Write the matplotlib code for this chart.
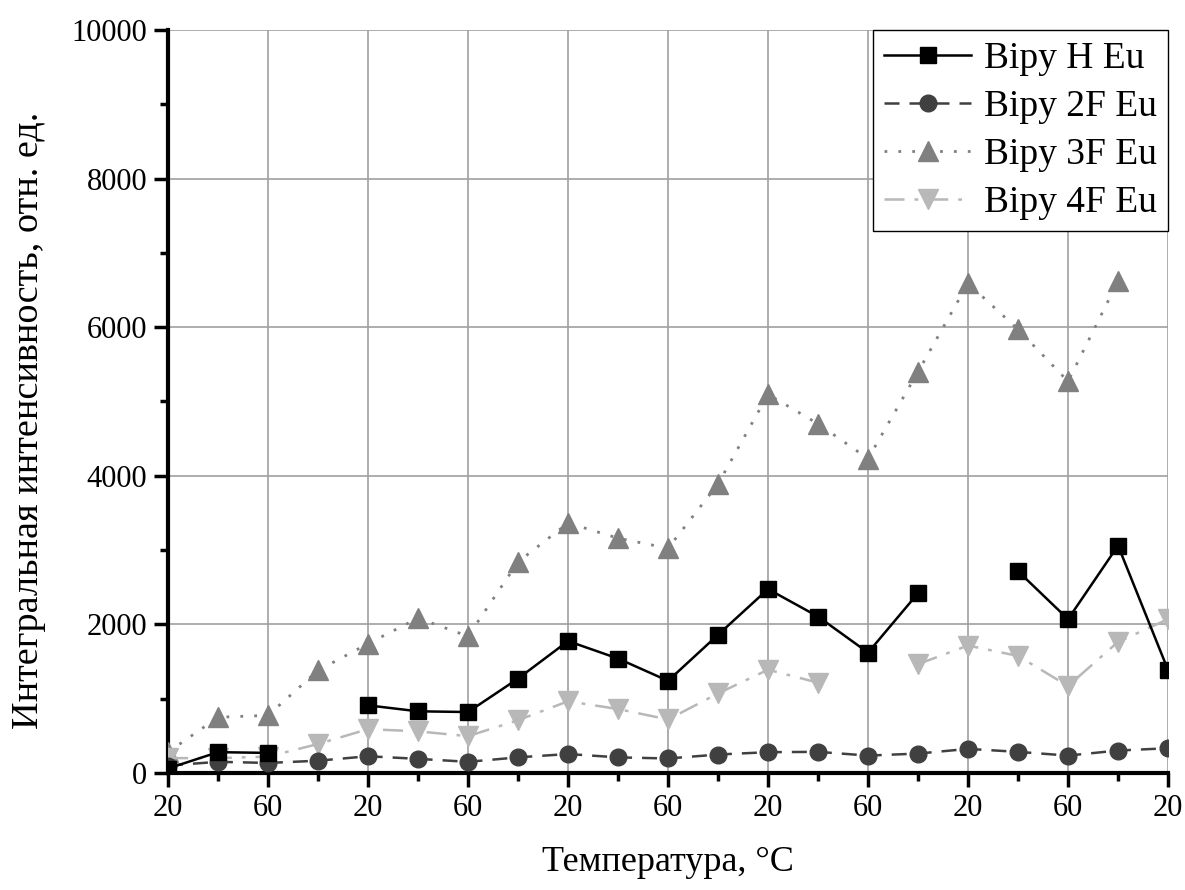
import numpy as np
import matplotlib.pyplot as plt
from matplotlib.ticker import MultipleLocator, FixedLocator, FixedFormatter

plt.rcParams['font.family'] = ['Liberation Serif', 'DejaVu Serif']

# порядковый номер измерения (циклы нагрев/охлаждение 20-60 °C)
x = np.arange(21)
tick_labels = ['20', '60'] * 5 + ['20']

nan = np.nan
bipy_h = [60, 280, 270, nan, 910, 830, 820, 1270, 1775, 1540, 1240, 1860, 2475,
          2105, 1620, 2420, nan, 2715, 2070, 3060, 1385]
bipy_2f = [100, 150, 135, 165, 225, 190, 150, 210, 255, 210, 195, 248, 280,
           284, 234, 261, 324, 284, 234, 302, 333]
bipy_3f = [280, 750, 775, 1380, 1740, 2085, 1840, 2840, 3365, 3160, 3025, 3890,
           5095, 4700, 4230, 5400, 6590, 5970, 5270, 6620, nan]
bipy_4f = [200, 200, 220, 390, 590, 560, 495, 710, 965, 860, 720, 1070, 1390,
           1215, nan, 1465, 1715, 1575, 1170, 1765, 2070]

fig = plt.figure(figsize=(11.85, 8.9), dpi=100)
ax = fig.add_axes([0.1418, 0.1315, 0.8439, 0.8348])

ax.plot(x, bipy_h, color='black', ls='-', lw=1.8, marker='s', ms=12,
        label='Bipy H Eu', zorder=5)
ax.plot(x, bipy_2f, color='#404040', ls=(0, (6, 4)), lw=1.8, marker='o', ms=12,
        label='Bipy 2F Eu', zorder=4)
ax.plot(x, bipy_3f, color='#808080', ls=(0, (1, 4)), lw=2, marker='^', ms=14,
        label='Bipy 3F Eu', zorder=3)
ax.plot(x, bipy_4f, color='#b8b8b8', ls=(0, (8, 4, 1.5, 4)), lw=1.8, marker='v', ms=14,
        label='Bipy 4F Eu', zorder=3)

ax.set_xlim(0, 20)
ax.set_ylim(0, 10000)
ax.xaxis.set_major_locator(FixedLocator(x[::2]))
ax.xaxis.set_major_formatter(FixedFormatter(tick_labels))
ax.xaxis.set_minor_locator(MultipleLocator(1))
ax.yaxis.set_major_locator(MultipleLocator(2000))
ax.yaxis.set_minor_locator(MultipleLocator(1000))

ax.grid(True, which='major', color='#a0a0a0', lw=1.2)
ax.set_axisbelow(True)
for side in ['top', 'right']:
    ax.spines[side].set_visible(False)
for side in ['left', 'bottom']:
    ax.spines[side].set_linewidth(3)
ax.tick_params(which='major', direction='out', length=10, width=2.5, labelsize=22, pad=5)
ax.tick_params(which='minor', direction='out', length=6, width=2.5)

ax.set_xlabel('Температура, °C', fontsize=26, labelpad=17)
ax.set_ylabel('Интегральная интенсивность, отн. ед.', fontsize=27.5)
ax.yaxis.set_label_coords(-0.122, 0.475)

leg = ax.legend(loc='upper right', fontsize=27, frameon=True, fancybox=False,
                edgecolor='black', framealpha=1, handlelength=2.3,
                borderpad=0.3, labelspacing=0.36, handletextpad=0.35,
                borderaxespad=0.0)
leg.get_frame().set_linewidth(1)

fig.savefig('out.png', dpi=100)
